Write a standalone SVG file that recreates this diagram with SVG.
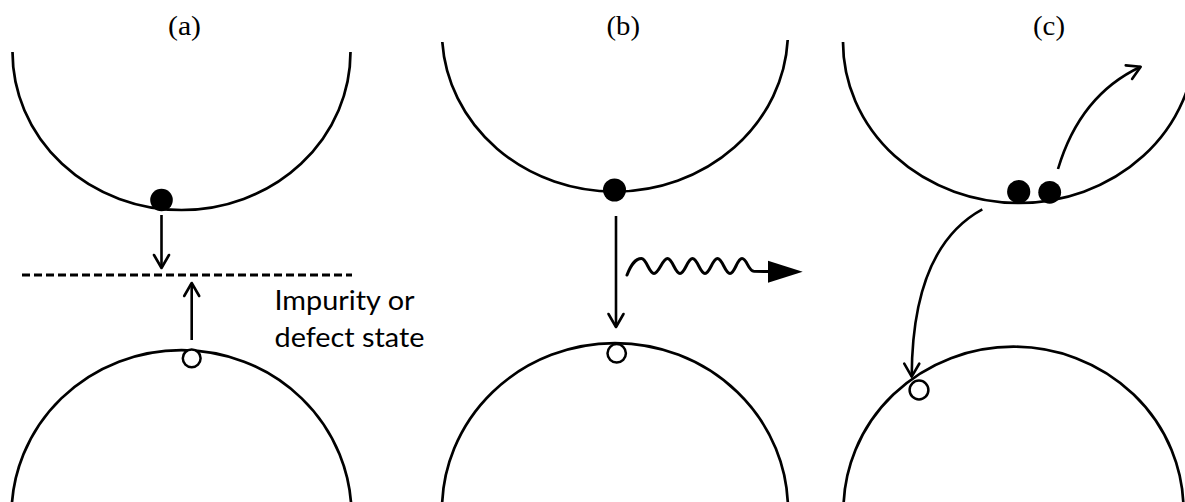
<svg xmlns="http://www.w3.org/2000/svg" width="1185" height="502" viewBox="0 0 1185 502">
  <style>
    .band { fill: none; stroke: #000; stroke-width: 2.7; }
    .e { fill: #000; }
    .h { fill: #fff; stroke: #000; stroke-width: 2.5; }
    .arrow { fill: none; stroke: #000; stroke-width: 2.6; marker-end: url(#open); }
    .wave { fill: none; stroke: #000; stroke-width: 3; stroke-linecap: round; }
    .dash { fill: none; stroke: #000; stroke-width: 3; stroke-dasharray: 8 4; }
    .title { font-family: "Liberation Serif", "Times New Roman", serif; font-size: 28px; fill: #000; }
    .label { font-family: Lato, "Open Sans", sans-serif; font-size: 26px; fill: #000; }
  </style>
  <defs>
    <marker id="open" viewBox="-20 -12 24 24" markerWidth="24" markerHeight="24" refX="0" refY="0" orient="auto" markerUnits="userSpaceOnUse" overflow="visible">
      <path d="M-13,-7.5 L0,0 L-13,7.5" fill="none" stroke="#000" stroke-width="2.6" stroke-linecap="round" stroke-linejoin="round"/>
    </marker>
  </defs>
  <rect x="0" y="0" width="1185" height="502" fill="#fff"/>

  <!-- Panel (a) -->
  <g id="title-a"><text class="title" x="168" y="35" textLength="33" lengthAdjust="spacingAndGlyphs">(a)</text></g>
  <g id="cb-a"><path class="band" d="M12.5,52 A169,158 0 0 0 350.5,52"/></g>
  <g id="vb-a"><path class="band" d="M11.5,515 A170,165 0 0 1 351.5,515"/></g>
  <g id="defect-a"><path class="dash" d="M22,275 L352,275"/></g>
  <g id="label-a">
    <text class="label" x="274.5" y="310" textLength="140" lengthAdjust="spacingAndGlyphs">Impurity or</text>
    <text class="label" x="274.5" y="346.7" textLength="150" lengthAdjust="spacingAndGlyphs">defect state</text>
  </g>
  <g id="electron-a"><circle class="e" cx="161.5" cy="200" r="11.3"/></g>
  <g id="hole-a"><circle class="h" cx="191.7" cy="358.3" r="8.9"/></g>

  <!-- Panel (b) -->
  <g id="title-b"><text class="title" x="606.5" y="35" textLength="33.5" lengthAdjust="spacingAndGlyphs">(b)</text></g>
  <g id="cb-b"><path class="band" d="M442.3,42 A173,160 0 0 0 787.7,40"/></g>
  <g id="vb-b"><path class="band" d="M442,510 A173,167 0 0 1 788,510"/></g>
  <g id="electron-b"><circle class="e" cx="614.5" cy="190" r="11.5"/></g>
  <g id="hole-b"><circle class="h" cx="616.7" cy="353.3" r="9.2"/></g>
  <g id="photon-b">
    <path class="wave" d="M627,275 C631,265 635,258.5 641.5,258.5 C646.5,258.5 649,273.5 654,273.5 C659,273.5 662.5,258.5 667.5,258.5 C672.5,258.5 675,273.5 680,273.5 C685,273.5 687.5,258.5 692.5,258.5 C697.5,258.5 700,273.5 705,273.5 C710,273.5 712.5,258.5 717.5,258.5 C722.5,258.5 725,273.5 730,273.5 C735,273.5 737,258.5 742,258.5 C747,258.5 748,271 754,271.3 L770,271.6"/>
    <polygon points="768,260.7 802.7,271.7 768,282.7" fill="#000"/>
  </g>

  <!-- Panel (c) -->
  <g id="title-c"><text class="title" x="1033" y="35" textLength="32" lengthAdjust="spacingAndGlyphs">(c)</text></g>
  <g id="cb-c"><path class="band" d="M843,42 A176,161 0 0 0 1195,42"/></g>
  <g id="vb-c"><path class="band" d="M843.5,510 A170,163.3 0 0 1 1183.5,510"/></g>
  <g id="electron-c1"><circle class="e" cx="1018.7" cy="191.7" r="11.6"/></g>
  <g id="electron-c2"><circle class="e" cx="1049.7" cy="192.3" r="11.4"/></g>
  <g id="hole-c"><circle class="h" cx="919" cy="390" r="9.4"/></g>

  <!-- Connectors -->
  <g id="connectors">
    <path class="arrow" d="M161.5,215 L161.5,268"/>
    <path class="arrow" d="M191.7,340 L191.7,283"/>
    <path class="arrow" d="M616,216 L616,327"/>
    <path class="arrow" d="M1058,169 Q1080,95 1140.7,66.7"/>
    <path class="arrow" d="M982.3,209.3 C935,235 912,290 911.7,376.7"/>
  </g>
</svg>
